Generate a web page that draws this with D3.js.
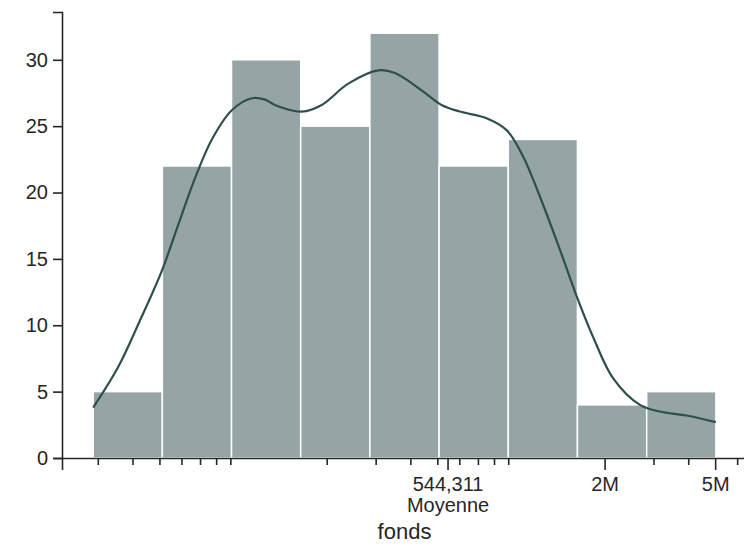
<!DOCTYPE html>
<html>
<head>
<meta charset="utf-8">
<script src="https://cdn.jsdelivr.net/npm/d3@7"></script>
<style>
  body { margin: 0; background: #fff; }
  svg { display: block; font-family: "Liberation Sans", Arial, sans-serif; }
</style>
</head>
<body>
<svg width="744" height="546"></svg>
<script>
// histogram bins (log spaced edges) and counts
const binEdges = [28870, 51220, 90870, 161200, 286000, 507500, 900400, 1597000, 2835000, 5029000];
const counts = [5, 22, 30, 25, 32, 22, 24, 4, 5];

// kde curve
const kdeX = [28870, 35600, 42000, 51000, 58500, 67200, 77200, 91100, 107500, 120000, 130000, 162600,
  191900, 239000, 306700, 352000, 439000, 518000, 603000, 752000, 888000, 1019000, 1170000, 1381000,
  1586000, 1820000, 2148000, 2680000, 3160000, 3940000, 5029000];
const kdeY = [3.8, 6.9, 10.1, 14.1, 17.6, 21.1, 24.0, 26.2, 27.1, 27.0, 26.6, 26.1,
  26.6, 28.2, 29.2, 29.0, 27.7, 26.6, 26.1, 25.6, 24.7, 22.7, 19.7, 15.7,
  12.2, 9.1, 6.0, 4.0, 3.5, 3.2, 2.7];

const meanValue = 544311;
const majorTicks = [meanValue, 2000000, 5000000];
const majorLabels = [["544,311", "Moyenne"], ["2M"], ["5M"]];
const yTicks = [0, 5, 10, 15, 20, 25, 30];

let svg = d3.select("svg");

let x = d3.scaleLog()
    .domain([22300, 6510000])
    .range([62, 747]);
let y = d3.scaleLinear()
    .domain([0, 33.6])
    .range([458, 12]);

const barColor = "#95a5a6";
const lineColor = "#2f4f4f";
const inkColor = "#262626";

// bars
let bins = counts.map((c, i) => ({x0: binEdges[i], x1: binEdges[i + 1], count: c}));
svg.append("g")
    .selectAll("rect")
    .data(bins)
    .enter().append("rect")
    .attr("x", d => x(d.x0))
    .attr("y", d => y(d.count))
    .attr("width", d => x(d.x1) - x(d.x0))
    .attr("height", d => y(0) - y(d.count))
    .attr("fill", barColor)
    .attr("stroke", "#fff")
    .attr("stroke-width", 1.5);

// kde line
let line = d3.line()
    .x(d => x(d[0]))
    .y(d => y(d[1]))
    .curve(d3.curveCatmullRom.alpha(0.5));
svg.append("path")
    .datum(kdeX.map((v, i) => [v, kdeY[i]]))
    .attr("d", line)
    .attr("fill", "none")
    .attr("stroke", lineColor)
    .attr("stroke-width", 2.2);

// y axis
let yAxis = svg.append("g")
    .attr("transform", "translate(62,0)")
    .call(d3.axisLeft(y).tickValues(yTicks).tickSize(9).tickPadding(5));
yAxis.selectAll("text").attr("font-size", 20).attr("fill", inkColor).attr("font-family", null);

// x axis: minor ticks
let minor = x.ticks().filter(v => {
    let l = Math.log10(v);
    return Math.abs(l - Math.round(l)) > 1e-9 && !majorTicks.includes(v);
});
let xAxisMinor = svg.append("g")
    .attr("transform", "translate(0,458)")
    .call(d3.axisBottom(x).tickValues(minor).tickSize(7).tickFormat(""));
xAxisMinor.select(".domain").remove();

let xAxis = svg.append("g")
    .attr("transform", "translate(0,458)")
    .call(d3.axisBottom(x).tickValues(majorTicks).tickSize(12).tickPadding(4).tickFormat(""));

xAxis.selectAll(".tick").each(function (d, i) {
    let t = d3.select(this).append("text")
        .attr("fill", inkColor)
        .attr("font-size", 20)
        .attr("text-anchor", "middle");
    majorLabels[i].forEach((s, j) => {
        t.append("tspan").attr("x", 0).attr("y", 33 + j * 21).text(s);
    });
});

svg.selectAll(".domain, .tick line")
    .attr("stroke", inkColor)
    .attr("stroke-width", 1.6);

// axis label
svg.append("text")
    .attr("x", x(Math.sqrt(22300 * 6510000)))
    .attr("y", 539)
    .attr("text-anchor", "middle")
    .attr("font-size", 22)
    .attr("fill", inkColor)
    .text("fonds");
</script>
</body>
</html>
